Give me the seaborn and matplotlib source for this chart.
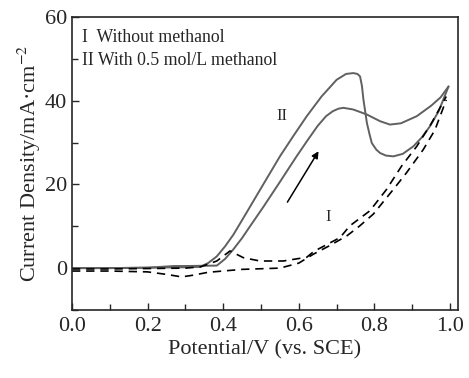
import numpy as np
import pandas as pd
import seaborn as sns
import matplotlib.pyplot as plt
from matplotlib.ticker import MultipleLocator

# Curve II (with methanol), two scan branches
II_a_x = [0.0, 0.1, 0.2, 0.3, 0.339, 0.36, 0.383, 0.405, 0.427, 0.462, 0.50, 0.55,
          0.585, 0.621, 0.66, 0.70, 0.725, 0.744, 0.755, 0.762, 0.767, 0.771, 0.776,
          0.78, 0.787, 0.793, 0.805, 0.815, 0.83, 0.85, 0.875, 0.903, 0.925, 0.947, 0.97, 0.996]
II_a_y = [0.0, 0.0, 0.1, 0.2, 0.3, 1.2, 2.8, 5.2, 8.0, 13.3, 19.1, 26.7,
          31.5, 36.3, 41.0, 45.0, 46.4, 46.6, 46.4, 45.8, 43.5, 40.2, 37.2,
          34.7, 32.0, 29.9, 28.3, 27.5, 26.9, 26.7, 27.3, 29.1, 31.2, 33.9, 37.5, 43.4]

II_b_x = [0.0, 0.1, 0.2, 0.27, 0.3, 0.383, 0.405, 0.427, 0.45, 0.471, 0.506, 0.55, 0.594,
          0.625, 0.65, 0.672, 0.69, 0.705, 0.718, 0.744, 0.78, 0.815, 0.841, 0.87, 0.912,
          0.95, 0.975, 0.996]
II_b_y = [0.0, 0.0, 0.1, 0.5, 0.5, 0.6, 2.2, 4.5, 7.2, 10.0, 14.6, 20.6, 26.7,
          30.8, 34.0, 36.3, 37.5, 38.1, 38.3, 37.9, 36.7, 35.1, 34.3, 34.6, 36.3,
          38.8, 40.8, 43.4]

# Curve I (without methanol), two scan branches
I_a_x = [0.0, 0.1, 0.2, 0.25, 0.29, 0.32, 0.36, 0.45, 0.55, 0.6, 0.638, 0.68, 0.727, 0.76,
         0.797, 0.85, 0.885, 0.929, 0.96, 0.99]
I_a_y = [-0.7, -0.7, -0.9, -1.5, -2.1, -1.7, -1.0, -0.3, 0.0, 1.2, 3.3, 5.3, 7.7, 10.0,
         12.9, 18.8, 22.8, 28.3, 33.0, 40.2]

I_b_x = [0.0, 0.1, 0.2, 0.3, 0.34, 0.383, 0.418, 0.453, 0.497, 0.559, 0.621, 0.64, 0.709,
         0.735, 0.788, 0.832, 0.872, 0.912, 0.95, 0.99]
I_b_y = [-0.2, -0.2, -0.1, 0.0, 0.3, 1.7, 4.1, 2.5, 1.7, 1.7, 2.6, 4.0, 7.3,
         10.1, 13.7, 18.8, 24.4, 29.1, 34.5, 41.0]

sns.set_style("ticks")
plt.rcParams['font.family'] = ['Liberation Serif', 'DejaVu Serif']
plt.rcParams['mathtext.fontset'] = 'stix'

fig = plt.figure(figsize=(4.69, 3.78), dpi=100)
ax = fig.add_axes([0.1535, 0.18, 0.823, 0.775])

gray = '#606060'
for xs, ys in [(II_a_x, II_a_y), (II_b_x, II_b_y)]:
    df = pd.DataFrame({'x': xs, 'y': ys})
    sns.lineplot(data=df, x='x', y='y', sort=False, color=gray, lw=1.4, ax=ax)
for xs, ys in [(I_a_x, I_a_y), (I_b_x, I_b_y)]:
    df = pd.DataFrame({'x': xs, 'y': ys})
    sns.lineplot(data=df, x='x', y='y', sort=False, color='black', lw=1.2,
                 dashes=False, ax=ax, linestyle=(0, (5, 3.5)))

ax.annotate('', xy=(0.656, 28.5), xytext=(0.566, 15.2),
            arrowprops=dict(arrowstyle='-|>', color='black', lw=1.1, mutation_scale=10))
ax.text(0.555, 36.3, 'II', ha='center', va='center', fontsize=12)
ax.text(0.678, 12.1, 'I', ha='center', va='center', fontsize=12)
ax.text(0.026, 55, 'I  Without methanol', ha='left', va='center', fontsize=12.8)
ax.text(0.026, 49.5, 'II With 0.5 mol/L methanol', ha='left', va='center', fontsize=12.8)

ax.set_xlim(0, 1.021)
ax.set_ylim(-10, 60)
ax.xaxis.set_major_locator(MultipleLocator(0.2))
ax.xaxis.set_minor_locator(MultipleLocator(0.1))
ax.yaxis.set_major_locator(MultipleLocator(20))
ax.yaxis.set_minor_locator(MultipleLocator(10))
ax.tick_params(which='both', direction='in', labelsize=16, width=1)
ax.tick_params(axis='x', pad=5)
ax.tick_params(which='major', length=5)
ax.tick_params(which='minor', length=4)
for s in ax.spines.values():
    s.set_linewidth(1.2)
ax.set_xlabel('Potential/V (vs. SCE)', fontsize=16, labelpad=3)
ax.set_ylabel('Current Density/mA·cm$^{-2}$', fontsize=16, labelpad=1)

fig.savefig('out.png', dpi=100)
